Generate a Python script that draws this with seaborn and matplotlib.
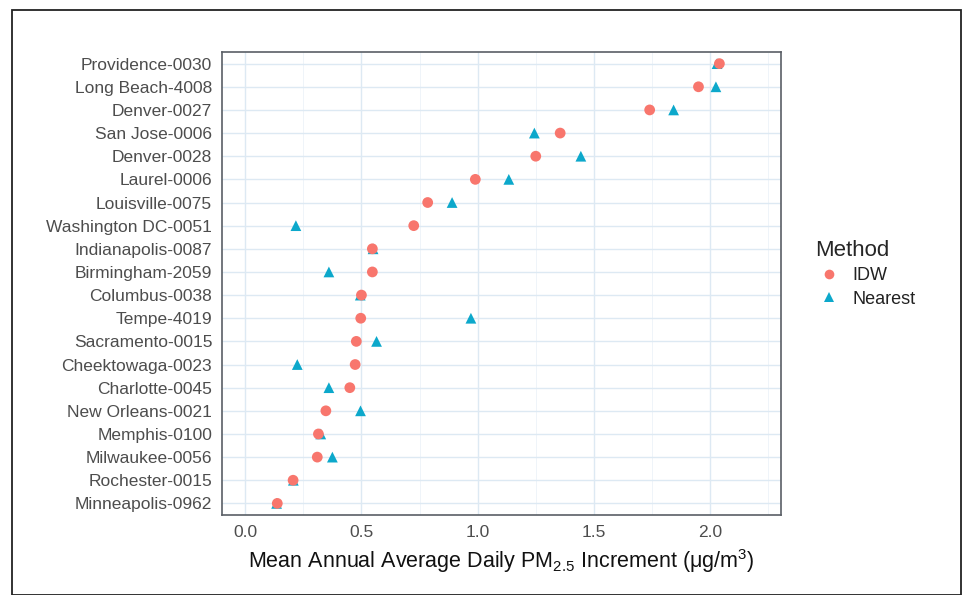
import pandas as pd
import matplotlib.pyplot as plt
import seaborn as sns
from matplotlib.patches import Rectangle
from matplotlib.ticker import MultipleLocator

# monitor sites, top to bottom
sites = ["Providence-0030", "Long Beach-4008", "Denver-0027", "San Jose-0006",
         "Denver-0028", "Laurel-0006", "Louisville-0075", "Washington DC-0051",
         "Indianapolis-0087", "Birmingham-2059", "Columbus-0038", "Tempe-4019",
         "Sacramento-0015", "Cheektowaga-0023", "Charlotte-0045", "New Orleans-0021",
         "Memphis-0100", "Milwaukee-0056", "Rochester-0015", "Minneapolis-0962"]

idw = [2.04, 1.95, 1.74, 1.355, 1.25, 0.99, 0.785, 0.725,
       0.547, 0.547, 0.50, 0.497, 0.478, 0.473, 0.45, 0.347,
       0.315, 0.31, 0.206, 0.138]

nearest = [2.03, 2.025, 1.843, 1.244, 1.444, 1.134, 0.89, 0.218,
           0.55, 0.36, 0.495, 0.971, 0.565, 0.224, 0.36, 0.496,
           0.325, 0.375, 0.207, 0.135]

x_ticks = [0.0, 0.5, 1.0, 1.5, 2.0]

# Nearest first so the IDW circles sit on top
df = pd.concat([
    pd.DataFrame({"site": sites, "value": nearest, "Method": "Nearest"}),
    pd.DataFrame({"site": sites, "value": idw, "Method": "IDW"}),
])

sns.set_style("white")
plt.rcParams["font.family"] = ["Liberation Sans", "DejaVu Sans"]
plt.rcParams["mathtext.fontset"] = "custom"
plt.rcParams["mathtext.rm"] = "Liberation Sans"
plt.rcParams["mathtext.it"] = "Liberation Sans:italic"

fig = plt.figure(figsize=(9.63, 5.95), dpi=100)
ax = fig.add_axes([0.2305, 0.1345, 0.5805, 0.778])

sns.scatterplot(data=df, x="value", y="site", hue="Method", style="Method",
                hue_order=["IDW", "Nearest"], style_order=["IDW", "Nearest"],
                markers={"IDW": "o", "Nearest": "^"},
                palette={"IDW": "#F8766D", "Nearest": "#0CA8CB"},
                s=60, linewidth=0, ax=ax, zorder=3)

ax.set_xlim(-0.1, 2.305)
ax.set_ylim(len(sites) - 0.5, -0.5)
ax.xaxis.set_minor_locator(MultipleLocator(0.25))
ax.set_xticks(x_ticks)
ax.set_xticklabels([f"{v:.1f}" for v in x_ticks])

ax.grid(True, which="major", color="#dde9f3", linewidth=1.0, zorder=0)
ax.grid(True, which="minor", axis="x", color="#ecf3f9", linewidth=0.6, zorder=0)
ax.set_axisbelow(True)
for sp in ax.spines.values():
    sp.set_color("#5a5f66")
    sp.set_linewidth(1.2)

ax.tick_params(axis="both", which="major", length=4, width=1, color="#444444",
               labelsize=12.5, labelcolor="#4d4d4d", pad=3)
ax.tick_params(axis="x", which="minor", length=0)

ax.set_ylabel("")
ax.set_xlabel(r"Mean Annual Average Daily PM$_{\mathrm{2.5}}$ Increment ($\mathrm{\mu}$g/m$^{\mathrm{3}}$)",
              fontsize=15.5, color="#111111", labelpad=5)

leg = ax.legend(title="Method", loc="upper left", bbox_to_anchor=(815 / 963, 1 - 240 / 595),
                bbox_transform=fig.transFigure, borderaxespad=0, borderpad=0,
                frameon=False, fontsize=13, title_fontsize=16,
                handlelength=1.6, handletextpad=0.45, labelspacing=0.35,
                markerscale=0.9)
leg._legend_box.align = "left"
for t in leg.get_texts():
    t.set_color("#222222")

# outer frame around the whole figure
fig.patches.append(Rectangle((12 / 963, 0.0), 949 / 963, 1 - 10 / 595,
                             transform=fig.transFigure, fill=False,
                             edgecolor="#222222", linewidth=1.3))

fig.savefig("out.png", dpi=100)
